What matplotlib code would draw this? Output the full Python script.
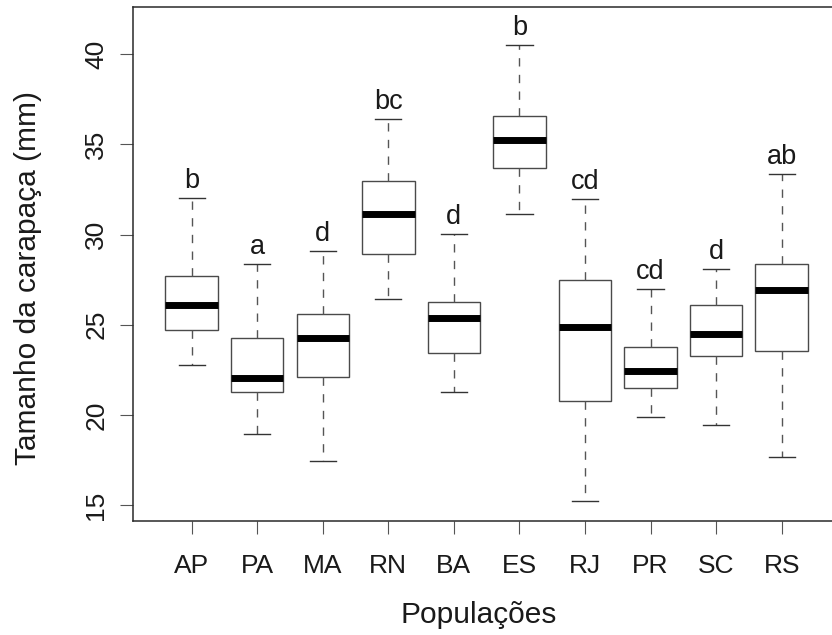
import matplotlib
matplotlib.use("Agg")
import matplotlib.pyplot as plt

plt.rcParams["font.family"] = ["Liberation Sans", "DejaVu Sans"]

# ---- DATA ----
pops = ["AP", "PA", "MA", "RN", "BA", "ES", "RJ", "PR", "SC", "RS"]
whis_lo = [22.80, 18.97, 17.47, 26.44, 21.28, 31.14, 15.26, 19.92, 19.47, 17.68]
q1 = [24.74, 21.28, 22.11, 28.93, 23.43, 33.70, 20.78, 21.49, 23.28, 23.56]
median = [26.08, 22.08, 24.29, 31.14, 25.37, 35.24, 24.88, 22.44, 24.51, 26.93]
q3 = [27.73, 24.29, 25.62, 32.95, 26.29, 36.55, 27.50, 23.77, 26.08, 28.36]
whis_hi = [32.04, 28.36, 29.07, 36.38, 30.04, 40.51, 31.96, 27.01, 28.10, 33.37]
groups = ["b", "a", "d", "bc", "d", "b", "cd", "cd", "d", "ab"]

yticks = [15, 20, 25, 30, 35, 40]

# ---- PLOT ----
fig = plt.figure(figsize=(8.32, 6.35), dpi=100)
# frame runs past the right edge, like the original export
ax = fig.add_axes([0.1602, 0.1795, 0.8494, 0.809])

stats = []
for i in range(len(pops)):
    stats.append({"label": pops[i], "whislo": whis_lo[i], "q1": q1[i],
                  "med": median[i], "q3": q3[i], "whishi": whis_hi[i],
                  "fliers": []})

ax.bxp(stats, positions=range(1, len(pops) + 1), widths=0.8,
       showfliers=False, patch_artist=True,
       boxprops=dict(facecolor="white", edgecolor="#4a4a4a", linewidth=1.0),
       medianprops=dict(color="black", linewidth=5.0, solid_capstyle="butt"),
       whiskerprops=dict(color="#555555", linewidth=1.0,
                         linestyle=(0, (6, 6))),
       capprops=dict(color="#333333", linewidth=1.0))

# significance letters above each upper whisker
for i, g in enumerate(groups):
    ax.text(i + 1, whis_hi[i] + 0.55, g, ha="center", va="baseline",
            fontsize=19.5, color="#1a1a1a")

ax.set_xlim(0.11, 10.89)
ax.set_ylim(14.13, 42.59)
ax.set_xticks(range(1, len(pops) + 1))
ax.set_xticklabels(pops)
ax.set_yticks(yticks)
ax.set_yticklabels([str(t) for t in yticks], rotation=90, va="center")

ax.tick_params(axis="both", length=9.4, width=0.8, color="#555555",
               labelsize=19, labelcolor="#1a1a1a")
ax.tick_params(axis="x", pad=14)
ax.tick_params(axis="y", pad=8.5)

for side in ["top", "bottom", "left", "right"]:
    ax.spines[side].set_color("#2a2a2a")
    ax.spines[side].set_linewidth(1.1)

ax.set_xlabel("Populações", fontsize=21.5, color="#1a1a1a")
ax.set_ylabel("Tamanho da carapaça (mm)", fontsize=21.5, color="#1a1a1a")
ax.xaxis.set_label_coords(0.489, -0.156)
ax.yaxis.set_label_coords(-0.129, 0.473)

fig.savefig("out.png", dpi=100)
